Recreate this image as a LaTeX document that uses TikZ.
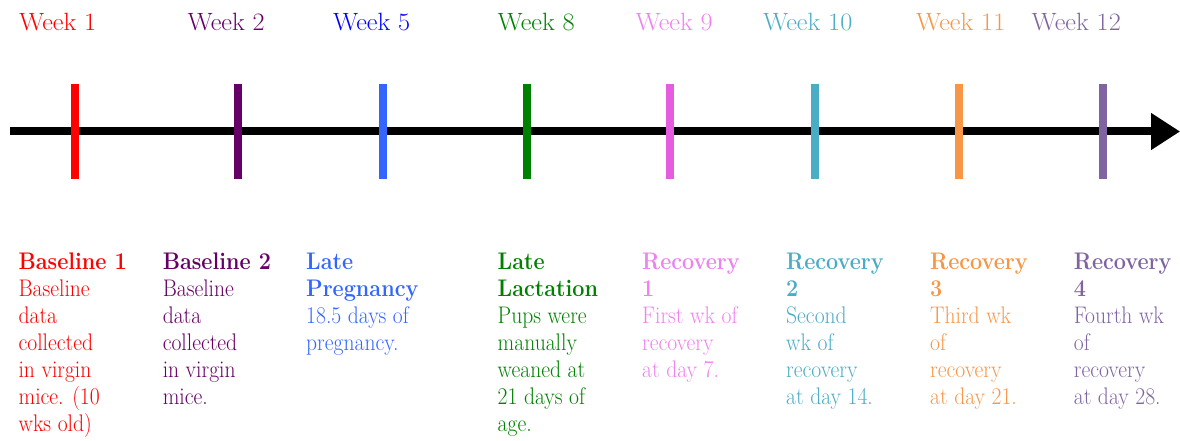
\documentclass[tikz,border=0pt]{standalone}
\usetikzlibrary{arrows.meta}
\definecolor{cred}{HTML}{FF0000}
\definecolor{cpurple}{HTML}{660066}
\definecolor{cblueW}{HTML}{0000FF}
\definecolor{cblue}{HTML}{3366FF}
\definecolor{cgreen}{HTML}{008000}
\definecolor{cpinkT}{HTML}{EE82EE}
\definecolor{cpink}{HTML}{E55CE0}
\definecolor{cteal}{HTML}{4BACC6}
\definecolor{corange}{HTML}{F79646}
\definecolor{cviolet}{HTML}{8064A2}
\tikzset{
  weeklbl/.style={anchor=base west, inner sep=0pt, xscale=1.05, transform shape, font=\fontsize{25}{30}\selectfont},
  desc/.style={anchor=base west, inner sep=0pt, xscale=0.9, transform shape, font=\fontsize{24}{27}\selectfont},
  tickline/.style={line width=8pt},
  shadowline/.style={line width=8pt, black, opacity=0.12},
}
\newcommand{\mytick}[3]{%
  \coordinate (#3t) at (#1,84);
  \coordinate (#3b) at (#1,179);
  \foreach \dx/\dy in {2/3,3/4,4/5,5/6}{
    \draw[shadowline, shift={(\dx,\dy)}] (#3t) -- (#3b);
  }
  \draw[tickline, #2] (#3t) -- (#3b);
}
\newcommand{\desctext}[1]{\begin{tabular}[t]{@{}l@{}}#1\end{tabular}}
\begin{document}
\begin{tikzpicture}[x=1pt,y=-1pt]
\useasboundingbox (0,0) rectangle (1180,441);
% axis shadow
\coordinate (axstart) at (10,131.5);
\coordinate (axend) at (1180,131.5);
\foreach \dx/\dy in {1/3,2/4,3/5,4/6}{
  \draw[line width=8pt, black, opacity=0.12, shift={(\dx,\dy)}, -{Triangle[length=29pt,width=35pt]}] (axstart) -- (axend);
}
\draw[line width=8pt, black, -{Triangle[length=29pt,width=35pt]}] (axstart) -- (axend);
% ticks
\mytick{75}{cred}{k1}
\mytick{238}{cpurple}{k2}
\mytick{383}{cblue}{k5}
\mytick{527}{cgreen}{k8}
\mytick{670}{cpink}{k9}
\mytick{815}{cteal}{k10}
\mytick{959}{corange}{k11}
\mytick{1103}{cviolet}{k12}
% week labels
\node[weeklbl, cred] (w1) at (19,31) {Week 1};
\node[weeklbl, cpurple] (w2) at (187.5,31) {Week 2};
\node[weeklbl, cblueW] (w5) at (333,31) {Week 5};
\node[weeklbl, cgreen] (w8) at (497.5,31) {Week 8};
\node[weeklbl, cpinkT] (w9) at (635.5,31) {Week 9};
\node[weeklbl, cteal] (w10) at (763,31) {Week 10};
\node[weeklbl, corange] (w11) at (916,31) {Week 11};
\node[weeklbl, cviolet] (w12) at (1031.5,31) {Week 12};
% descriptions
\node[desc, cred] (d1) at (18.4,269.5) {\desctext{\textbf{Baseline 1}\\Baseline\\data\\collected\\in virgin\\mice. (10\\wks old)}};
\node[desc, cpurple] (d2) at (162.6,269.5) {\desctext{\textbf{Baseline 2}\\Baseline\\data\\collected\\in virgin\\mice.}};
\node[desc, cblue] (d5) at (306,269.5) {\desctext{\textbf{Late}\\\textbf{Pregnancy}\\18.5 days of\\pregnancy.}};
\node[desc, cgreen] (d8) at (497.5,269.5) {\desctext{\textbf{Late}\\\textbf{Lactation}\\Pups were\\manually\\weaned at\\21 days of\\age.}};
\node[desc, cpinkT] (d9) at (642,269.5) {\desctext{\textbf{Recovery}\\\textbf{1}\\First wk of\\recovery\\at day 7.}};
\node[desc, cteal] (d10) at (786,269.5) {\desctext{\textbf{Recovery}\\\textbf{2}\\Second\\wk of\\recovery\\at day 14.}};
\node[desc, corange] (d11) at (930,269.5) {\desctext{\textbf{Recovery}\\\textbf{3}\\Third wk\\of\\recovery\\at day 21.}};
\node[desc, cviolet] (d12) at (1073.7,269.5) {\desctext{\textbf{Recovery}\\\textbf{4}\\Fourth wk\\of\\recovery\\at day 28.}};
\end{tikzpicture}
\end{document}
